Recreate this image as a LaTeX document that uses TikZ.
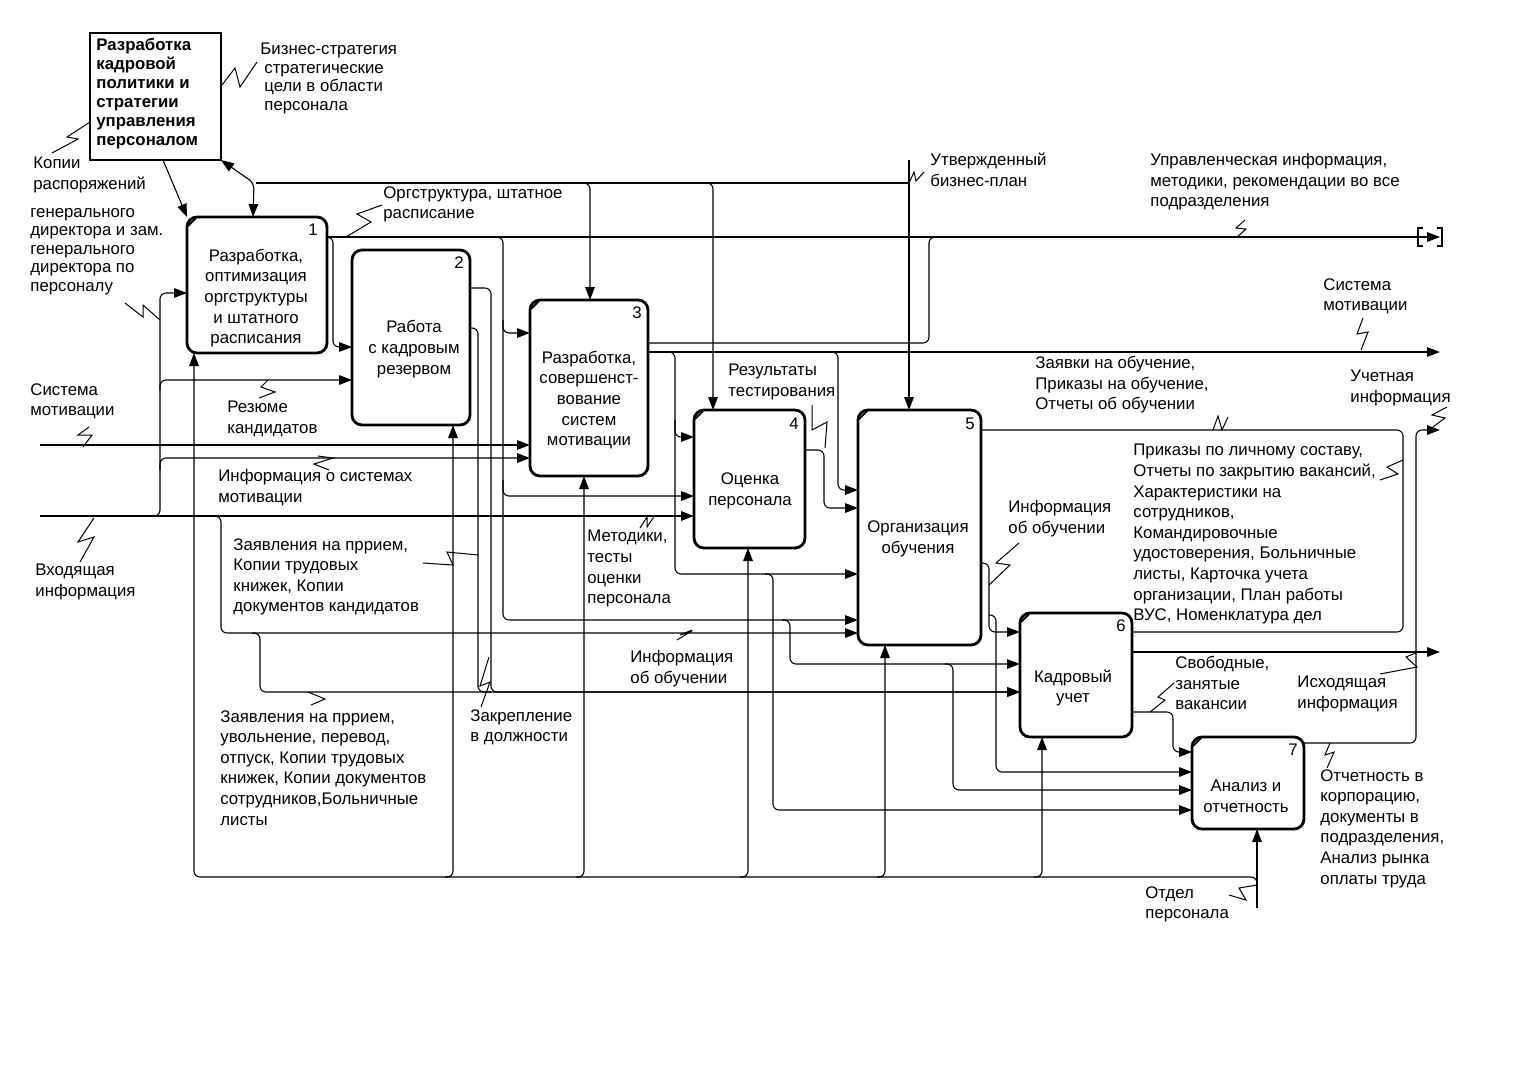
\documentclass[tikz,border=0pt]{standalone}
\usepackage{fontspec}
\setmainfont{Liberation Sans}
\usetikzlibrary{arrows.meta}
\newcommand\dfont{\fontsize{8.4}{10.3}\selectfont}
\newcommand\dfontt{\fontsize{8.4}{9.2}\selectfont}
\begin{document}
\begin{tikzpicture}[x=0.5pt,y=-0.5pt,
  fbox/.style={draw, line width=1.4pt, rounded corners=5pt, inner sep=0pt, outer sep=0pt},
  conn/.style={line width=0.55pt, rounded corners=3pt},
  arr/.style={conn, -{Triangle[length=6.5pt,width=4.8pt]}},
  sq/.style={line width=0.5pt},
  lbl/.style={font=\dfont, align=left, anchor=north west, inner sep=0pt, execute at begin node={\rule{0pt}{6pt}}},
  btxt/.style={font=\dfont, align=center, inner sep=0pt},
  num/.style={font=\dfont, inner sep=0pt},
  diag/.style={line width=0.9pt}]
\fill[white] (0,0) rectangle (1524,1078);
\useasboundingbox (0,0) rectangle (1524,1078);

% ---------- boxes ----------
\node[draw, line width=1.4pt, inner sep=0pt, outer sep=0pt, minimum width=65.5pt, minimum height=63.5pt] (b0) at (155.5,96.5) {};
\node[fbox, minimum width=70pt, minimum height=68pt] (b1) at (257,285) {};
\node[fbox, minimum width=59pt, minimum height=87.5pt] (b2) at (411,337.5) {};
\node[fbox, minimum width=59pt, minimum height=88pt] (b3) at (589,388) {};
\node[fbox, minimum width=55.5pt, minimum height=69pt] (b4) at (749.5,479) {};
\node[fbox, minimum width=61.5pt, minimum height=117.5pt] (b5) at (919.5,527.5) {};
\node[fbox, minimum width=56pt, minimum height=62pt] (b6) at (1076,675) {};
\node[fbox, minimum width=56pt, minimum height=46pt] (b7) at (1248,783) {};

% corner marks
\draw[diag] (188,226) -- (196,218);
\draw[diag] (531,309) -- (539,301);
\draw[diag] (695,419) -- (703,411);
\draw[diag] (859,419) -- (867,411);
\draw[diag] (1021,622) -- (1029,614);
\draw[diag] (1193,746) -- (1201,738);

% box texts
\node[lbl, font=\bfseries\fontsize{8.4}{9.5}\selectfont] (t0) at (96,38) {Разработка\\кадровой\\политики и\\стратегии\\управления\\персоналом};
\node[btxt] (t1) at (256,298) {Разработка,\\оптимизация\\оргструктуры\\и штатного\\расписания};
\node[btxt] (t2) at (414,349) {Работа\\с кадровым\\резервом};
\node[btxt] (t3) at (589,400) {Разработка,\\совершенст-\\вование\\систем\\мотивации};
\node[btxt] (t4) at (750,491) {Оценка\\персонала};
\node[btxt] (t5) at (918,539) {Организация\\обучения};
\node[btxt] (t6) at (1073,688) {Кадровый\\учет};
\node[btxt] (t7) at (1246,796) {Анализ и\\отчетность};

\node[num] (n1) at (313,230) {1};
\node[num] (n2) at (459,263) {2};
\node[num] (n3) at (637,313) {3};
\node[num] (n4) at (794,424) {4};
\node[num] (n5) at (970,424) {5};
\node[num] (n6) at (1121,626) {6};
\node[num] (n7) at (1293,750) {7};

% ---------- controls from top ----------
\coordinate (ub) at (909,160);
\draw[arr] (ub) -- (b5.north -| ub);
\draw[conn] (ub |- 0,183) -- (256,183);
\draw[conn, {Triangle[length=6.5pt,width=4.8pt]}-{Triangle[length=6.5pt,width=4.8pt]}] (b0.south east) -- (254,183) -- (b1.north -| 253,0);
\draw[arr] (582,183) -| (b3.north -| 590,0);
\draw[arr] (705,183) -| (b4.north -| 713,0);
\draw[arr] (b0.south -| 163,0) -- (b1.north west);

% ---------- box 1 outputs ----------
\draw[arr] (b1.east |- 0,237) -- (1440,237);
\draw[line width=0.55pt] (1423,228) -- (1418,228) -- (1418,246) -- (1423,246);
\draw[line width=0.55pt] (1437,228) -- (1442,228) -- (1442,246) -- (1437,246);
\draw[arr] (b1.east |- 0,237) -| (333,300) |- (b2.west |- 0,347);
\draw[arr] (495,237) -| (503,300) |- (b3.west |- 0,333);
\draw[arr] (503,320) |- (b4.west |- 0,496);
\draw[arr] (503,480) |- (b5.west |- 0,620);
\draw[arr] (782,620) -| (790,640) |- (b6.west |- 0,664);
\draw[arr] (945,664) -| (953,700) |- (b7.west |- 0,790);

% ---------- box 2 outputs ----------
\draw[arr] (b2.east |- 0,288) -| (491,692) -- (b6.west |- 0,692);
\draw[conn] (b2.east |- 0,328) -| (478,692) -- (491,692);

% ---------- left inputs ----------
\coordinate (vx) at (40,516);
\draw[arr] (vx) -- (b4.west |- 0,516);
\draw[arr] (150,516) -| (160,470) |- (b3.west |- 0,458);
\draw[arr] (160,470) |- (b2.west |- 0,380);
\draw[arr] (160,390) |- (b1.west |- 0,293);
\draw[arr] (212,516) -| (221,560) |- (b5.west |- 0,633);
\draw[arr] (252,633) -| (260,660) |- (b6.west |- 0,692);
\coordinate (sm) at (40,445);
\draw[arr] (sm) -- (b3.west |- 0,445);

% ---------- box 3 outputs ----------
\draw[conn] (b3.east |- 0,343) -| (929,300) |- (945,237);
\draw[arr] (b3.east |- 0,352) -- (1440,352);
\draw[arr] (667,352) -| (675,400) |- (b4.west |- 0,437);
\draw[arr] (675,420) |- (b5.west |- 0,574);
\draw[arr] (765,574) -| (773,700) |- (b7.west |- 0,810);
\draw[arr] (830,352) -| (838,420) |- (b5.west |- 0,490);

% ---------- box 4 output ----------
\draw[arr] (b4.east |- 0,450) -| (824,480) |- (b5.west |- 0,508);

% ---------- box 5 outputs ----------
\draw[conn] (b5.east |- 0,430) -| (1403,500) |- (b6.east |- 0,632);
\draw[arr] (b5.east |- 0,563) -| (989,600) |- (b6.west |- 0,632);
\draw[arr] (989,615) -| (996,700) |- (b7.west |- 0,772);

% ---------- box 6 outputs ----------
\draw[arr] (b6.east |- 0,652) -- (1440,652);
\draw[arr] (b6.east |- 0,712) -| (1173,730) |- (b7.west |- 0,752);

% ---------- box 7 output ----------
\draw[arr] (b7.east |- 0,743) -| (1416,600) |- (1440,430);

% ---------- mechanisms ----------
\coordinate (op) at (1257,908);
\draw[arr] (op) -- (b7.south -| op);
\draw[arr] (1257,895) |- (194,877) -- (b1.south -| 194,0);
\draw[arr] (445,877) -| (b2.south -| 453,0);
\draw[arr] (576,877) -| (b3.south -| 584,0);
\draw[arr] (740,877) -| (b4.south -| 748,0);
\draw[arr] (877,877) -| (b5.south -| 885,0);
\draw[arr] (1034,877) -| (b6.south -| 1042,0);

% ---------- squiggles ----------
\draw[sq] (222,85) -- (235,68) -- (240,87) -- (257,62);
\draw[sq] (52,153) -- (78,139) -- (67,137) -- (90,122);
\draw[sq] (125,303) -- (143,317) -- (143,305) -- (160,320);
\draw[sq] (346,237) -- (371,222) -- (357,214) -- (382,205);
\draw[sq] (259,398) -- (275,392) -- (261,387) -- (268,380);
\draw[sq] (318,456) -- (333,458) -- (314,464) -- (329,470);
\draw[sq] (89,427) -- (78,435) -- (92,435) -- (83,447);
\draw[sq] (94,518) -- (78,542) -- (94,537) -- (80,562);
\draw[sq] (423,563) -- (453,565) -- (447,552) -- (478,555);
\draw[sq] (640,528) -- (647,517) -- (647,527) -- (655,515);
\draw[sq] (812,405) -- (812,430) -- (827,422) -- (825,448);
\draw[sq] (1213,430) -- (1218,416) -- (1222,430) -- (1228,417);
\draw[sq] (1245,220) -- (1236,228) -- (1246,229) -- (1237,237);
\draw[sq] (1363,318) -- (1357,334) -- (1368,332) -- (1361,350);
\draw[sq] (1447,407) -- (1432,415) -- (1445,418) -- (1433,427);
\draw[sq] (1380,480) -- (1398,474) -- (1387,467) -- (1403,460);
\draw[sq] (1019,543) -- (996,563) -- (1010,565) -- (989,585);
\draw[sq] (677,640) -- (690,632) -- (680,635) -- (692,630);
\draw[sq] (308,692) -- (325,699) -- (311,705);
\draw[sq] (481,707) -- (490,682) -- (480,686) -- (489,657);
\draw[sq] (1150,712) -- (1165,700) -- (1158,697) -- (1174,683);
\draw[sq] (1380,674) -- (1417,667) -- (1406,657) -- (1418,652);
\draw[sq] (1327,768) -- (1334,752) -- (1325,755) -- (1330,743);
\draw[sq] (1229,895) -- (1246,900) -- (1239,888) -- (1257,885);
\draw[sq] (909,183) -- (914,172) -- (916,181) -- (924,172);

% ---------- labels ----------
\node[lbl] (lbs) at (260,42) {Бизнес-стратегия};
\node[lbl, font=\dfontt] (lsc) at (264,64) {стратегические\\цели в области\\персонала};
\node[lbl] (lkop) at (33,157) {Копии\\распоряжений};
\node[lbl, font=\dfontt] (lgen) at (30,208) {генерального\\директора и зам.\\генерального\\директора по\\персоналу};
\node[lbl] (lorg) at (383,186) {Оргструктура, штатное\\расписание};
\node[lbl] (lsysl) at (30,383) {Система\\мотивации};
\node[lbl] (lrez) at (227,401) {Резюме\\кандидатов};
\node[lbl] (linf) at (218,469) {Информация о системах\\мотивации};
\node[lbl] (lvh) at (35,564) {Входящая\\информация};
\node[lbl] (lzay1) at (233,538) {Заявления на пррием,\\Копии трудовых\\книжек, Копии\\документов кандидатов};
\node[lbl] (lmet) at (587,530) {Методики,\\тесты\\оценки\\персонала};
\node[lbl] (lrez2) at (728,364) {Результаты\\тестирования};
\node[lbl] (lzayob) at (1035,356) {Заявки на обучение,\\Приказы на обучение,\\Отчеты об обучении};
\node[lbl] (lupr) at (1150,153) {Управленческая информация,\\методики, рекомендации во все\\подразделения};
\node[lbl] (lsysr) at (1323,278) {Система\\мотивации};
\node[lbl] (luch) at (1350,370) {Учетная\\информация};
\node[lbl] (lprik) at (1133,444) {Приказы по личному составу,\\Отчеты по закрытию вакансий,\\Характеристики на\\сотрудников,\\Командировочные\\удостоверения, Больничные\\листы, Карточка учета\\организации, План работы\\ВУС, Номенклатура дел};
\node[lbl] (lob1) at (1008,500) {Информация\\об обучении};
\node[lbl] (lob2) at (630,650) {Информация\\об обучении};
\node[lbl] (lzay2) at (220,710) {Заявления на пррием,\\увольнение, перевод,\\отпуск, Копии трудовых\\книжек, Копии документов\\сотрудников,Больничные\\листы};
\node[lbl] (lzakr) at (470,709) {Закрепление\\в должности};
\node[lbl] (lsvob) at (1175,656) {Свободные,\\занятые\\вакансии};
\node[lbl] (lisx) at (1297,676) {Исходящая\\информация};
\node[lbl] (lotch) at (1320,769) {Отчетность в\\корпорацию,\\документы в\\подразделения,\\Анализ рынка\\оплаты труда};
\node[lbl] (lotd) at (1145,886) {Отдел\\персонала};
\node[lbl] (lutv) at (930,153) {Утвержденный\\бизнес-план};
\end{tikzpicture}
\end{document}
